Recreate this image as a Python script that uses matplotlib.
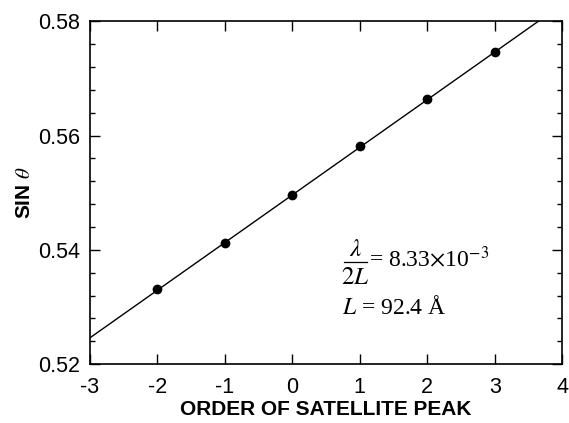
import numpy as np
import matplotlib.pyplot as plt
from matplotlib.ticker import MultipleLocator

plt.rcParams['font.family'] = ['Liberation Sans', 'DejaVu Sans']
plt.rcParams['mathtext.fontset'] = 'stix'
plt.rcParams['axes.unicode_minus'] = False

# satellite peak order vs sin(theta)
order = [-2, -1, 0, 1, 2, 3]
sin_theta = [0.5331, 0.5412, 0.5496, 0.5581, 0.5663, 0.5746]

# linear fit line
slope = 8.33e-3
intercept = 0.5496
fit_x = np.array([-3.0, 4.0])


def main():
    fig = plt.figure(figsize=(5.69, 4.23), dpi=100)
    ax = fig.add_axes([0.158, 0.139, 0.830, 0.811])

    ax.plot(fit_x, slope * fit_x + intercept, color='black', lw=1.0)
    ax.plot(order, sin_theta, 'o', color='black', markersize=6)

    ax.set_xlim(-3, 4)
    ax.set_ylim(0.52, 0.58)
    ax.set_xticks(range(-3, 5))
    ax.set_yticks([0.52, 0.54, 0.56, 0.58])
    ax.yaxis.set_minor_locator(MultipleLocator(0.004))
    ax.tick_params(which='both', direction='in', top=True, right=True,
                   labelsize=15.5, width=1.0)
    ax.tick_params(which='major', length=7)
    ax.tick_params(which='minor', length=3.5)
    ax.tick_params(axis='x', pad=9)
    ax.tick_params(axis='y', pad=7)
    for s in ax.spines.values():
        s.set_linewidth(1.2)

    ax.set_xlabel('ORDER OF SATELLITE PEAK', fontsize=15, fontweight='bold',
                  labelpad=2)
    ax.set_ylabel(r'SIN $\theta$', fontsize=15, fontweight='bold', labelpad=3)

    # lambda / 2L fraction drawn by hand so it stays full size
    serif = ['Liberation Serif', 'DejaVu Serif']
    ax.text(0.93, 0.5381, r'$\lambda$', fontsize=18, ha='center', va='bottom')
    ax.text(0.93, 0.5374, r'$2L$', fontsize=18, ha='center', va='top')
    ax.plot([0.76, 1.10], [0.5378, 0.5378], color='black', lw=0.9)
    ax.text(1.14, 0.5371, r'= 8.33$\times$10$^{-3}$', family=serif,
            fontsize=17, va='baseline', ha='left')
    ax.text(0.74, 0.5300, r'$L$ = 92.4 Å', family=serif,
            fontsize=17, va='center', ha='left')

    fig.savefig('out.png', dpi=100)


if __name__ == "__main__":
    main()
